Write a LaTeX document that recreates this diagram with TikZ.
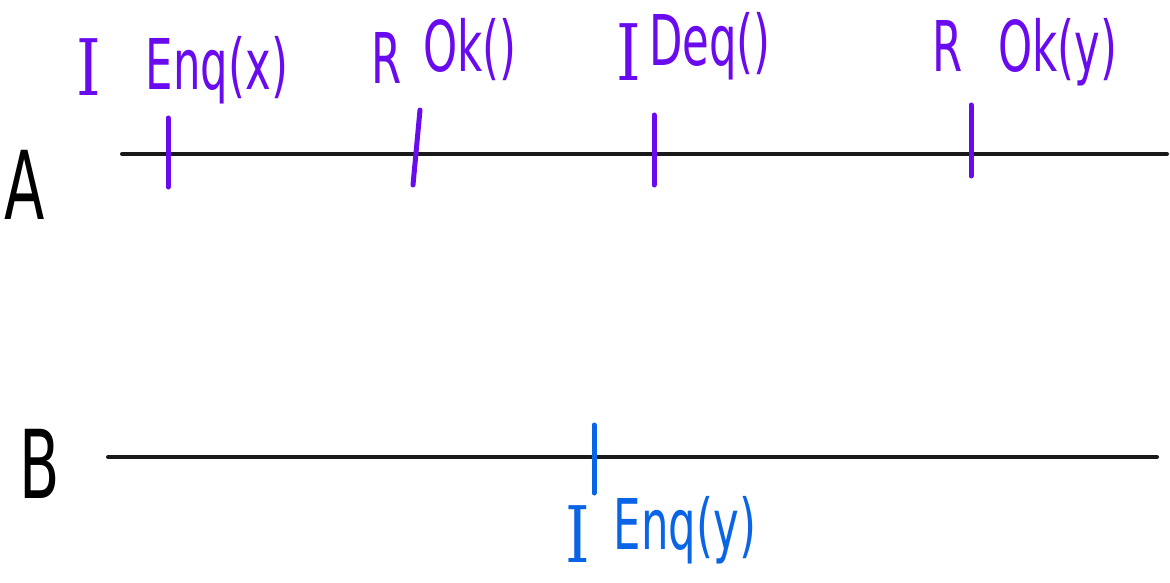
\documentclass[tikz,border=0pt]{standalone}
\usepackage{fontspec}
\newfontfamily\hand[FakeStretch=0.62]{DejaVu Sans}
\newfontfamily\handi[FakeStretch=0.8]{DejaVu Serif}
\definecolor{pur}{RGB}{106,10,238}
\definecolor{blu}{RGB}{10,100,230}
\tikzset{
  axis/.style={line width=4pt, line cap=round, black!90},
  tick/.style={line width=5pt, line cap=round},
  lbl/.style={inner sep=0pt, font=\hand\fontsize{70}{70}\selectfont},
  lbli/.style={inner sep=0pt, font=\handi\fontsize{78}{78}\selectfont},
  big/.style={inner sep=0pt, font=\hand\fontsize{95}{95}\selectfont},
}
\begin{document}
\begin{tikzpicture}[x=1pt,y=-1pt]
\useasboundingbox (0,0) rectangle (1170,583);
% process names
\node[big] (A) at (25,185) {A};
\node[big] (B) at (40,464) {B};
% axes
\coordinate (a0) at (122,154); \coordinate (a1) at (1167,154);
\coordinate (b0) at (108,457); \coordinate (b1) at (1157,457);
\draw[axis] (a0) -- (a1);
\draw[axis] (b0) -- (b1);
% ticks on A
\coordinate (t1a) at (168,118); \coordinate (t1b) at (168,187);
\coordinate (t2a) at (420,110); \coordinate (t2b) at (413,185);
\coordinate (t3a) at (654,115); \coordinate (t3b) at (654,185);
\coordinate (t4a) at (971,105); \coordinate (t4b) at (971,176);
\draw[tick,pur] (t1a) -- (t1b);
\draw[tick,pur] (t2a) -- (t2b);
\draw[tick,pur] (t3a) -- (t3b);
\draw[tick,pur] (t4a) -- (t4b);
% tick on B
\coordinate (u1a) at (594,425); \coordinate (u1b) at (594,493);
\draw[tick,blu] (u1a) -- (u1b);
% labels on A
\node[lbli,pur] (l1i) at (89,67) {I};
\node[lbl,pur] (l1) at (217,70) {Enq(x)};
\node[lbl,pur] (l2r) at (387,58) {R};
\node[lbl,pur] (l2) at (470,50) {Ok()};
\node[lbli,pur] (l3i) at (629,52) {I};
\node[lbl,pur] (l3) at (710,46) {Deq()};
\node[lbl,pur] (l4r) at (948,46) {R};
\node[lbl,pur] (l4) at (1058,52) {Ok(y)};
% label on B
\node[lbli,blu] (m1i) at (578,534) {I};
\node[lbl,blu] (m1) at (685,530) {Enq(y)};
\end{tikzpicture}
\end{document}
